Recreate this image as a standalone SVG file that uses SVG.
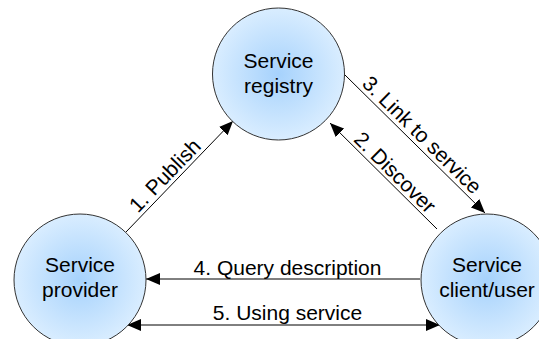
<svg xmlns="http://www.w3.org/2000/svg" width="539" height="339" viewBox="0 0 539 339">
<style>
.node{stroke:#333;stroke-width:1;fill:url(#g)}
.nt{font-family:"Liberation Sans",Arial,sans-serif;font-size:21px;fill:#000;text-anchor:middle}
.lt{font-family:"Liberation Sans",Arial,sans-serif;font-size:21px;fill:#000;text-anchor:middle}
.c{stroke:#000;stroke-width:1;fill:none}
</style>
<defs>
<radialGradient id="g" cx="0.5" cy="0.5" r="0.5">
<stop offset="0" stop-color="#a6d2fc"/>
<stop offset="1" stop-color="#d9edff"/>
</radialGradient>
<marker id="ah" viewBox="0 0 14 12" refX="14" refY="6" markerWidth="14" markerHeight="12" markerUnits="userSpaceOnUse" orient="auto-start-reverse">
<path d="M0,0 L14,6 L0,12 z" fill="#000"/>
</marker>
</defs>
<rect width="539" height="339" fill="#fff"/>
<g id="connectors">
<line class="c" x1="126" y1="232" x2="233" y2="121" marker-end="url(#ah)"/>
<line class="c" x1="437" y1="229" x2="330" y2="123" marker-end="url(#ah)"/>
<line class="c" x1="345" y1="75" x2="485" y2="213" marker-end="url(#ah)"/>
<line class="c" x1="420" y1="279" x2="146" y2="279" marker-end="url(#ah)"/>
<line class="c" x1="127" y1="325" x2="440" y2="325" marker-start="url(#ah)" marker-end="url(#ah)"/>
<text class="lt" transform="translate(170,180.5) rotate(-46)">1. Publish</text>
<text class="lt" transform="translate(390,177.5) rotate(44.7)">2. Discover</text>
<text class="lt" transform="translate(417,140) rotate(44.6)">3. Link to service</text>
<text class="lt" x="287.5" y="275">4. Query description</text>
<text class="lt" x="287.5" y="320">5. Using service</text>
</g>
<g id="registry">
<circle class="node" cx="278.5" cy="74" r="66"/>
<text class="nt" x="278.5" y="68">Service</text>
<text class="nt" x="278.5" y="93">registry</text>
</g>
<g id="provider">
<circle class="node" cx="80" cy="280" r="66"/>
<text class="nt" x="80" y="272">Service</text>
<text class="nt" x="80" y="297">provider</text>
</g>
<g id="client">
<circle class="node" cx="487" cy="280" r="66"/>
<text class="nt" x="487" y="272">Service</text>
<text class="nt" x="487" y="297">client/user</text>
</g>
</svg>
